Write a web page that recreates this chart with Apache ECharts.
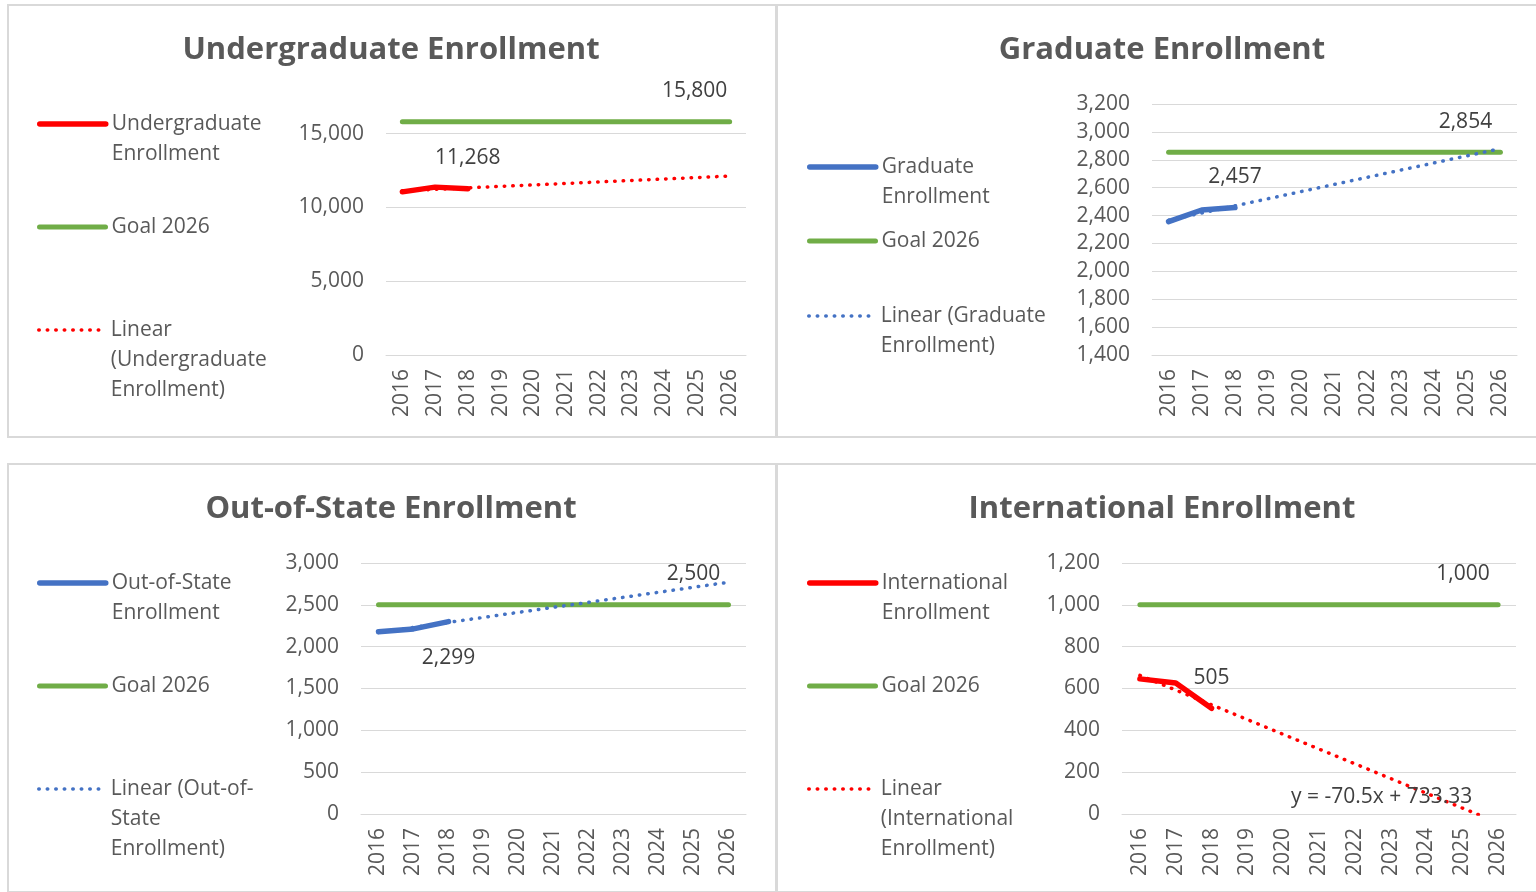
<!DOCTYPE html>
<html>
<head>
<meta charset="utf-8">
<script src="https://cdn.jsdelivr.net/npm/echarts@6/dist/echarts.min.js"></script>
<style>
  body { margin: 0; background: #fff; width: 1536px; height: 892px; overflow: hidden; position: relative; }
  .panel { position: absolute; border: 2px solid #d9d9d9; box-sizing: border-box; }
</style>
</head>
<body>
<div class="panel" id="p1" style="left:7px;top:4px;width:770px;height:434px"></div>
<div class="panel" id="p2" style="left:776px;top:4px;width:762px;height:434px"></div>
<div class="panel" id="p3" style="left:7px;top:463px;width:770px;height:430px"></div>
<div class="panel" id="p4" style="left:776px;top:463px;width:762px;height:430px"></div>
<script>
// categories shared by all four charts
const years = ['2016', '2017', '2018', '2019', '2020', '2021', '2022', '2023', '2024', '2025', '2026'];

// actual values (2016-2018), goal for 2026, trendline values at 2016 and 2026
const ugActual = [11050, 11370, 11268];
const ugGoal = 15800;
const ugTrend = [11120, 12120];

const gradActual = [2356, 2440, 2457];
const gradGoal = 2854;
const gradTrend = [2367, 2880];

const oosActual = [2178, 2212, 2299];
const oosGoal = 2500;
const oosTrend = [2170, 2770];

const intlActual = [646, 626, 505];
const intlGoal = 1000;
const intlTrend = [663, -42];
const intlEquation = 'y = -70.5x + 733.33';

const RED = '#ff0000', BLUE = '#4472c4', GREEN = '#70ad47';
const FONT = '"Open Sans", sans-serif';
const TXT = '#595959', LBL = '#404040';
const LH = 30;

const fmt = v => Number(v).toLocaleString('en-US');

function buildOption(cfg) {
  const last = years[years.length - 1];
  const actualData = cfg.actual.map((v, i) => i === cfg.actual.length - 1
    ? { value: v, label: { show: true, position: cfg.actualLabelPos, distance: cfg.actualLabelPos === 'top' ? 20 : 26,
        formatter: p => fmt(p.value), color: LBL, fontSize: 21, fontFamily: FONT } }
    : v);
  const goalData = [
    [years[0], cfg.goal],
    { value: [last, cfg.goal], label: { show: true, position: 'top', distance: 20, offset: [-35, 0],
        formatter: fmt(cfg.goal), color: LBL, fontSize: 21, fontFamily: FONT } }
  ];
  const trendData = [[years[0], cfg.trend[0]], [last, cfg.trend[1]]];

  const names = [cfg.actualName, 'Goal 2026', cfg.trendName];
  const legendLines = [
    { color: cfg.color, width: 5.5, cap: 'round', type: 'solid' },
    { color: GREEN, width: 5, cap: 'round', type: 'solid' },
    { color: cfg.color, width: 3.5, cap: 'round', type: [0.5, 8] }
  ];
  // icon sits beside the first line of the wrapped text: pad with leading empty lines
  const legends = names.map((name, i) => {
    const text = cfg.legendText[i];
    const n = text.split('\n').length;
    const shown = '\n'.repeat(n - 1) + text;
    return {
      data: [name], left: cfg.legendLeft, top: cfg.legendY[i] - (2 * n - 1) * LH / 2, padding: 0,
      itemWidth: 66, itemHeight: 8, selectedMode: false,
      itemStyle: { opacity: 0 },
      lineStyle: legendLines[i],
      formatter: () => shown,
      textStyle: { fontSize: 21, color: TXT, fontFamily: FONT, lineHeight: LH, padding: [0, 0, 0, 1] }
    };
  });

  const trendSeries = {
    name: cfg.trendName, type: 'line', data: trendData, symbol: 'none',
    lineStyle: { color: cfg.color, width: 3.5, type: [0.5, 8], cap: 'round' },
    itemStyle: { color: cfg.color }, z: 4
  };
  if (cfg.equation) {
    trendSeries.markPoint = {
      symbol: 'circle', symbolSize: 0, animation: false,
      data: [{ coord: cfg.equationAt, label: { show: true, position: 'inside', offset: [-9, 0],
        formatter: cfg.equation, color: LBL, fontSize: 21, fontFamily: FONT } }]
    };
  }

  return {
    animation: false,
    textStyle: { fontFamily: FONT },
    title: {
      text: cfg.title, left: cfg.titleX, top: 29, textAlign: 'center', padding: 0,
      textStyle: { fontSize: 31, fontWeight: 'bold', color: TXT, fontFamily: FONT }
    },
    legend: legends,
    grid: cfg.grid,
    xAxis: {
      type: 'category', data: years, boundaryGap: true,
      axisLine: { show: true, lineStyle: { color: '#d9d9d9', width: 1 } },
      axisTick: { show: false },
      axisLabel: { rotate: 90, margin: 14, color: TXT, fontSize: 21, fontFamily: FONT, interval: 0 }
    },
    yAxis: {
      type: 'value', min: cfg.yMin, max: cfg.yMax, interval: cfg.yStep,
      axisLine: { show: false }, axisTick: { show: false },
      axisLabel: { margin: 22, color: TXT, fontSize: 21, fontFamily: FONT, formatter: fmt, showMaxLabel: cfg.showMax },
      splitLine: { lineStyle: { color: '#d9d9d9', width: 1 }, showMaxLine: cfg.showMax }
    },
    series: [
      {
        name: cfg.actualName, type: 'line', data: actualData, symbol: 'circle', symbolSize: 0, showSymbol: true,
        lineStyle: { color: cfg.color, width: 5.5, cap: 'round', join: 'round' },
        itemStyle: { color: cfg.color }, z: 3
      },
      {
        name: 'Goal 2026', type: 'line', data: goalData, symbol: 'circle', symbolSize: 0, showSymbol: true,
        lineStyle: { color: GREEN, width: 5, cap: 'round' },
        itemStyle: { color: GREEN }, z: 2
      },
      trendSeries
    ]
  };
}

const panels = [
  {
    id: 'p1', title: 'Undergraduate Enrollment', titleX: 382, color: RED,
    actualName: 'Undergraduate Enrollment', trendName: 'Linear (Undergraduate Enrollment)',
    legendText: ['Undergraduate\nEnrollment', 'Goal 2026', 'Linear\n(Undergraduate\nEnrollment)'],
    legendLeft: 28, legendY: [118, 221, 324],
    actual: ugActual, goal: ugGoal, trend: ugTrend, actualLabelPos: 'top',
    grid: { left: 377, top: 98, width: 360, height: 251 },
    yMin: 0, yMax: 17000, yStep: 5000, showMax: false
  },
  {
    id: 'p2', title: 'Graduate Enrollment', titleX: 384, color: BLUE,
    actualName: 'Graduate Enrollment', trendName: 'Linear (Graduate Enrollment)',
    legendText: ['Graduate\nEnrollment', 'Goal 2026', 'Linear (Graduate\nEnrollment)'],
    legendLeft: 29, legendY: [161, 235, 310],
    actual: gradActual, goal: gradGoal, trend: gradTrend, actualLabelPos: 'top',
    grid: { left: 374, top: 98, width: 365, height: 251 },
    yMin: 1400, yMax: 3200, yStep: 200, showMax: true
  },
  {
    id: 'p3', title: 'Out-of-State Enrollment', titleX: 382, color: BLUE,
    actualName: 'Out-of-State Enrollment', trendName: 'Linear (Out-of-State Enrollment)',
    legendText: ['Out-of-State\nEnrollment', 'Goal 2026', 'Linear (Out-of-\nState\nEnrollment)'],
    legendLeft: 28, legendY: [118, 221, 324],
    actual: oosActual, goal: oosGoal, trend: oosTrend, actualLabelPos: 'bottom',
    grid: { left: 352, top: 98, width: 385, height: 251 },
    yMin: 0, yMax: 3000, yStep: 500, showMax: true
  },
  {
    id: 'p4', title: 'International Enrollment', titleX: 384, color: RED,
    actualName: 'International Enrollment', trendName: 'Linear (International Enrollment)',
    legendText: ['International\nEnrollment', 'Goal 2026', 'Linear\n(International\nEnrollment)'],
    legendLeft: 29, legendY: [118, 221, 324],
    actual: intlActual, goal: intlGoal, trend: intlTrend, actualLabelPos: 'top',
    equation: intlEquation, equationAt: ['2023', 81],
    grid: { left: 344, top: 98, width: 394, height: 251 },
    yMin: 0, yMax: 1200, yStep: 200, showMax: true
  }
];

panels.forEach(cfg => {
  const chart = echarts.init(document.getElementById(cfg.id), null, { renderer: 'canvas' });
  chart.setOption(buildOption(cfg));
});
</script>
</body>
</html>
